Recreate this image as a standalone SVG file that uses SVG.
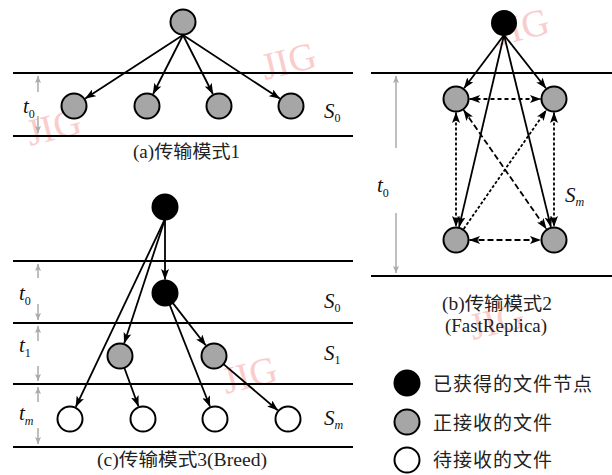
<svg xmlns="http://www.w3.org/2000/svg" width="612" height="475" viewBox="0 0 612 475">
<style>
.bg{fill:#fff}
.hl{stroke:#000;stroke-width:2;fill:none}
.ed{stroke:#000;stroke-width:1.8;fill:none;marker-end:url(#ah)}
.bi{marker-start:url(#ah)}
.d1{stroke-dasharray:4 3}
.d2{stroke-dasharray:3 2}
.d3{stroke-dasharray:6 3}
.ga{stroke:#aaa;stroke-width:1.5;fill:none;marker-end:url(#gh)}
.nb{fill:#000;stroke:#000;stroke-width:2}
.ng{fill:#a6a6a6;stroke:#000;stroke-width:2}
.nw{fill:#fff;stroke:#000;stroke-width:2}
.cap{font-family:"Liberation Serif","Noto Sans CJK SC",serif;font-size:18px;fill:#222}
.lg{font-family:"Liberation Serif","Noto Sans CJK SC",serif;font-size:19px;fill:#222}
.math{font-family:"Liberation Serif",serif;font-size:21px;font-style:italic;fill:#111}
.sub{font-size:12px}
.wm{font-family:"Liberation Serif",serif;font-size:38px;fill:#f6a5a5;opacity:0.55}
</style>
<defs>
<marker id="ah" markerUnits="userSpaceOnUse" markerWidth="11" markerHeight="8" refX="10.5" refY="4" orient="auto-start-reverse" viewBox="0 0 11 8">
<path d="M0,0 L11,4 L0,8 L2.5,4 z" fill="#000"/>
</marker>
<marker id="gh" markerUnits="userSpaceOnUse" markerWidth="7" markerHeight="8" refX="7" refY="3" orient="auto" viewBox="0 0 7 6">
<path d="M0,0 L7,3 L0,6 L1.5,3 z" fill="#aaa"/>
</marker>
</defs>
<rect class="bg" x="0" y="0" width="612" height="475"/>

<!-- watermarks -->
<g id="watermarks">
<text class="wm" transform="translate(265,80) rotate(-14)">JIG</text>
<text class="wm" transform="translate(30,146) rotate(-14)">JIG</text>
<text class="wm" transform="translate(498,46) rotate(-14)">JIG</text>
<text class="wm" transform="translate(473,340) rotate(-14)">JIG</text>
<text class="wm" transform="translate(226,394) rotate(-14)">JIG</text>
</g>

<!-- band lines -->
<g id="bands">
<line class="hl" x1="13" y1="73" x2="353" y2="73"/>
<line class="hl" x1="13" y1="136" x2="353" y2="136"/>
<line class="hl" x1="371" y1="73" x2="612" y2="73"/>
<line class="hl" x1="371" y1="276" x2="612" y2="276"/>
<line class="hl" x1="13" y1="261" x2="353" y2="261"/>
<line class="hl" x1="13" y1="323" x2="353" y2="323"/>
<line class="hl" x1="13" y1="384" x2="353" y2="384"/>
<line class="hl" x1="13" y1="447" x2="353" y2="447"/>
</g>

<!-- gray time arrows -->
<g id="time-arrows">
<line class="ga" x1="38" y1="92" x2="38" y2="76"/>
<line class="ga" x1="38" y1="116" x2="38" y2="133"/>
<line class="ga" x1="396" y1="148" x2="396" y2="76"/>
<line class="ga" x1="396" y1="213" x2="396" y2="273"/>
<line class="ga" x1="38" y1="278" x2="38" y2="264"/>
<line class="ga" x1="38" y1="304" x2="38" y2="320"/>
<line class="ga" x1="38" y1="341" x2="38" y2="326"/>
<line class="ga" x1="38" y1="366" x2="38" y2="381"/>
<line class="ga" x1="38" y1="402" x2="38" y2="387"/>
<line class="ga" x1="38" y1="428" x2="38" y2="444"/>
</g>

<!-- connectors -->
<g id="connectors">
<!-- (a) -->
<line class="ed" x1="183" y1="35" x2="85.3" y2="98.6"/>
<line class="ed" x1="183" y1="35" x2="153.1" y2="94"/>
<line class="ed" x1="183" y1="35" x2="212.9" y2="94"/>
<line class="ed" x1="183" y1="35" x2="279.7" y2="98.6"/>
<!-- (b) solid -->
<line class="ed" x1="504" y1="35" x2="464.1" y2="88.2"/>
<line class="ed" x1="504" y1="35" x2="545.9" y2="88.2"/>
<line class="ed" x1="504" y1="35" x2="459.1" y2="226.9"/>
<line class="ed" x1="504" y1="35" x2="550.9" y2="226.9"/>
<!-- (b) dashed -->
<line class="ed bi d1" x1="469.5" y1="99" x2="540.5" y2="99"/>
<line class="ed bi d2" x1="456" y1="112.5" x2="456" y2="226.5"/>
<line class="ed bi d2" x1="554" y1="112.5" x2="554" y2="226.5"/>
<line class="ed bi d3" x1="463.7" y1="110.1" x2="546.3" y2="228.9"/>
<line class="ed d2" x1="463.7" y1="228.9" x2="546.3" y2="110.1"/>
<line class="ed bi d3" x1="469.5" y1="240" x2="540.5" y2="240"/>
<!-- (c) -->
<line class="ed" x1="165" y1="219" x2="165" y2="279.5"/>
<line class="ed" x1="165" y1="219" x2="124.2" y2="343.2"/>
<line class="ed" x1="165" y1="219" x2="75.8" y2="406.8"/>
<line class="ed" x1="172.7" y1="302.9" x2="205.7" y2="345.3"/>
<line class="ed" x1="169.6" y1="304.6" x2="210" y2="406.5"/>
<line class="ed" x1="124.3" y1="367.7" x2="138.4" y2="406.3"/>
<line class="ed" x1="223.5" y1="364.1" x2="277.7" y2="410.3"/>
</g>

<!-- (a) nodes -->
<g id="a-src"><circle class="ng" cx="183" cy="22" r="12.5"/></g>
<g id="a-n1"><circle class="ng" cx="74" cy="106" r="12.5"/></g>
<g id="a-n2"><circle class="ng" cx="147" cy="106" r="12.5"/></g>
<g id="a-n3"><circle class="ng" cx="219" cy="106" r="12.5"/></g>
<g id="a-n4"><circle class="ng" cx="291" cy="106" r="12.5"/></g>

<!-- (b) nodes -->
<g id="b-src"><circle class="nb" cx="504" cy="23" r="12"/></g>
<g id="b-tl"><circle class="ng" cx="456" cy="99" r="12.5"/></g>
<g id="b-tr"><circle class="ng" cx="554" cy="99" r="12.5"/></g>
<g id="b-bl"><circle class="ng" cx="456" cy="240" r="12.5"/></g>
<g id="b-br"><circle class="ng" cx="554" cy="240" r="12.5"/></g>

<!-- (c) nodes -->
<g id="c-src"><circle class="nb" cx="165" cy="207" r="12.5"/></g>
<g id="c-s0"><circle class="nb" cx="165" cy="293" r="12.5"/></g>
<g id="c-s1a"><circle class="ng" cx="120" cy="356" r="12.5"/></g>
<g id="c-s1b"><circle class="ng" cx="214" cy="356" r="12.5"/></g>
<g id="c-m1"><circle class="nw" cx="70" cy="419" r="12.5"/></g>
<g id="c-m2"><circle class="nw" cx="143" cy="419" r="12.5"/></g>
<g id="c-m3"><circle class="nw" cx="215" cy="419" r="12.5"/></g>
<g id="c-m4"><circle class="nw" cx="288" cy="419" r="12.5"/></g>

<!-- labels -->
<g id="labels">
<text class="math" x="23" y="113">t<tspan class="sub" font-style="normal" dy="5">0</tspan></text>
<text class="math" x="324" y="118">S<tspan class="sub" font-style="normal" dy="4">0</tspan></text>
<text class="math" x="377" y="192">t<tspan class="sub" font-style="normal" dy="5">0</tspan></text>
<text class="math" x="565" y="202">S<tspan class="sub" dy="4">m</tspan></text>
<text class="math" x="19" y="300">t<tspan class="sub" font-style="normal" dy="5">0</tspan></text>
<text class="math" x="19" y="352">t<tspan class="sub" font-style="normal" dy="5">1</tspan></text>
<text class="math" x="19" y="420">t<tspan class="sub" dy="5">m</tspan></text>
<text class="math" x="324" y="308">S<tspan class="sub" font-style="normal" dy="4">0</tspan></text>
<text class="math" x="324" y="360">S<tspan class="sub" font-style="normal" dy="4">1</tspan></text>
<text class="math" x="324" y="425">S<tspan class="sub" dy="4">m</tspan></text>

<text class="cap" x="133" y="158" textLength="107" lengthAdjust="spacingAndGlyphs">(a)传输模式1</text>
<text class="cap" x="442" y="310" textLength="110" lengthAdjust="spacingAndGlyphs">(b)传输模式2</text>
<text class="cap" x="445" y="332" textLength="102" lengthAdjust="spacingAndGlyphs">(FastReplica)</text>
<text class="cap" x="97" y="466" textLength="170" lengthAdjust="spacingAndGlyphs">(c)传输模式3(Breed)</text>
</g>

<!-- legend -->
<g id="legend">
<g id="lg-done"><circle class="nb" cx="407" cy="383" r="12.5"/><text class="lg" x="433" y="391" textLength="159" lengthAdjust="spacing">已获得的文件节点</text></g>
<g id="lg-recv"><circle class="ng" cx="407" cy="422" r="12.5"/><text class="lg" x="433" y="430" textLength="119" lengthAdjust="spacing">正接收的文件</text></g>
<g id="lg-wait"><circle class="nw" cx="407" cy="460" r="12.5"/><text class="lg" x="433" y="467" textLength="119" lengthAdjust="spacing">待接收的文件</text></g>
</g>
</svg>
